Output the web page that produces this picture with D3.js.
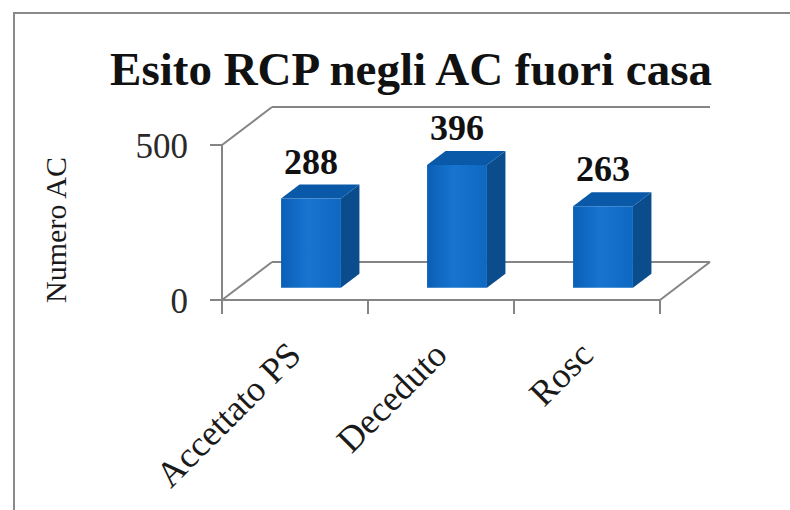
<!DOCTYPE html>
<html>
<head>
<meta charset="utf-8">
<script src="https://cdn.jsdelivr.net/npm/d3@7"></script>
<style>
  html, body { margin: 0; padding: 0; background: #fff; }
  svg { display: block; }
</style>
</head>
<body>
<div id="chart"></div>
<script>
// chart data
const title = "Esito RCP negli AC fuori casa";
const yTitle = "Numero AC";
const categories = ["Accettato PS", "Deceduto", "Rosc"];
const values = [288, 396, 263];
const yTicks = [0, 500];

const width = 790, height = 510;

// 3D depth offsets (pixels for full depth of the floor)
const DX = 50, DY = 38;
const barZ0 = 0.32, barZ1 = 0.69;

const svg = d3.select("#chart").append("svg")
    .attr("width", width)
    .attr("height", height);

// Gradient for the bar fronts
const defs = svg.append("defs");
const grad = defs.append("linearGradient").attr("id", "barFront")
    .attr("x1", "0%").attr("x2", "100%").attr("y1", "0%").attr("y2", "0%");
grad.append("stop").attr("offset", "0%").attr("stop-color", "#0a5fb6");
grad.append("stop").attr("offset", "45%").attr("stop-color", "#1774d0");
grad.append("stop").attr("offset", "100%").attr("stop-color", "#0e68c2");

// Frame
svg.append("path")
    .attr("d", "M14,512 L14,13 L792,13")
    .attr("fill", "none")
    .attr("stroke", "#8a8a8a")
    .attr("stroke-width", 2);

// Scales
const x = d3.scaleBand().domain(categories).range([222, 660]);
const y = d3.scaleLinear().domain([0, 500]).range([300, 145]);

// project a point (px on front plane, value, depth 0..1)
const proj = (px, v, z) => [px + z * DX, y(v) - z * DY];

const axisColor = "#858585";
const g = svg.append("g");

// Walls and floor
const x0 = x.range()[0], x1 = x.range()[1];
const lines = [
    [proj(x0, 0, 0), proj(x0, 500, 0)],      // y axis
    [proj(x0, 500, 0), proj(x0, 500, 1)],    // top-left diagonal
    [proj(x0, 500, 1), proj(x1, 500, 1)],    // back wall top
    [proj(x0, 0, 0), proj(x0, 0, 1)],        // floor left
    [proj(x0, 0, 1), proj(x1, 0, 1)],        // floor back
    [proj(x1, 0, 0), proj(x1, 0, 1)],        // floor right
    [proj(x0, 0, 0), proj(x1, 0, 0)]         // x axis
];
g.selectAll("line.wall")
    .data(lines)
    .enter()
    .append("line")
    .attr("class", "wall")
    .attr("x1", d => d[0][0]).attr("y1", d => d[0][1])
    .attr("x2", d => d[1][0]).attr("y2", d => d[1][1])
    .attr("stroke", axisColor)
    .attr("stroke-width", 2);

// Y ticks
g.selectAll("line.ytick")
    .data(yTicks)
    .enter()
    .append("line")
    .attr("x1", x0 - 12).attr("x2", x0)
    .attr("y1", d => y(d)).attr("y2", d => y(d))
    .attr("stroke", axisColor)
    .attr("stroke-width", 2);

g.selectAll("text.ytick")
    .data(yTicks)
    .enter()
    .append("text")
    .attr("x", 188)
    .attr("y", d => y(d) + 13)
    .attr("text-anchor", "end")
    .attr("font-family", "Liberation Serif, Times New Roman, serif")
    .attr("font-size", 35)
    .attr("fill", "#2a2a2a")
    .text(d => d);

// X ticks at band edges
const xTickPos = categories.map(c => x(c)).concat([x1]);
g.selectAll("line.xtick")
    .data(xTickPos)
    .enter()
    .append("line")
    .attr("x1", d => d).attr("x2", d => d)
    .attr("y1", y(0)).attr("y2", y(0) + 14)
    .attr("stroke", axisColor)
    .attr("stroke-width", 2);

// Bars
const barW = x.bandwidth() * 0.41;
const bars = categories.map((c, i) => {
    const cx = x(c) + x.bandwidth() / 2 + barZ0 * DX;
    return { name: c, value: values[i], left: cx - barW / 2 - barZ0 * DX, right: cx + barW / 2 - barZ0 * DX, cx: cx };
});

const barG = g.selectAll("g.bar")
    .data(bars)
    .enter()
    .append("g")
    .attr("class", "bar");

const pts = arr => arr.map(p => p.join(",")).join(" ");

// side face
barG.append("polygon")
    .attr("points", d => pts([
        proj(d.right, 0, barZ0), proj(d.right, 0, barZ1),
        proj(d.right, d.value, barZ1), proj(d.right, d.value, barZ0)
    ]))
    .attr("fill", "#0a4c8c");

// top face
barG.append("polygon")
    .attr("points", d => pts([
        proj(d.left, d.value, barZ0), proj(d.right, d.value, barZ0),
        proj(d.right, d.value, barZ1), proj(d.left, d.value, barZ1)
    ]))
    .attr("fill", "#0a58a8");

// front face
barG.append("polygon")
    .attr("points", d => pts([
        proj(d.left, 0, barZ0), proj(d.right, 0, barZ0),
        proj(d.right, d.value, barZ0), proj(d.left, d.value, barZ0)
    ]))
    .attr("fill", "url(#barFront)");

// value labels
barG.append("text")
    .attr("x", d => d.cx)
    .attr("y", d => proj(d.left, d.value, barZ0)[1] - 25)
    .attr("text-anchor", "middle")
    .attr("font-family", "Liberation Serif, Times New Roman, serif")
    .attr("font-weight", "bold")
    .attr("font-size", 36)
    .attr("fill", "#111")
    .text(d => d.value);

// category labels
g.selectAll("text.cat")
    .data(categories)
    .enter()
    .append("text")
    .attr("class", "cat")
    .attr("transform", d => `translate(${x(d) + x.bandwidth() / 2 + 8},357) rotate(-45)`)
    .attr("text-anchor", "end")
    .attr("font-family", "Liberation Serif, Times New Roman, serif")
    .attr("font-size", 36)
    .attr("fill", "#1a1a1a")
    .text(d => d);

// Y axis title
svg.append("text")
    .attr("transform", "translate(66,230) rotate(-90)")
    .attr("text-anchor", "middle")
    .attr("font-family", "Liberation Serif, Times New Roman, serif")
    .attr("font-size", 30)
    .attr("fill", "#1a1a1a")
    .text(yTitle);

// Title
svg.append("text")
    .attr("x", 411)
    .attr("y", 85)
    .attr("text-anchor", "middle")
    .attr("font-family", "Liberation Serif, Times New Roman, serif")
    .attr("font-weight", "bold")
    .attr("font-size", 47)
    .attr("fill", "#111")
    .text(title);
</script>
</body>
</html>
